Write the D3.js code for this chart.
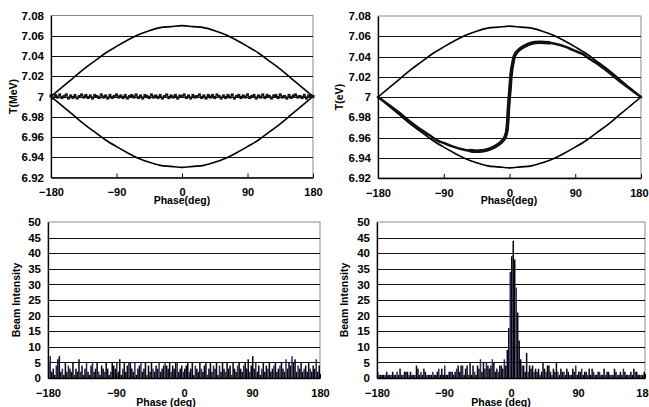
<!DOCTYPE html>
<html>
<head>
<meta charset="utf-8">
<script src="https://cdn.jsdelivr.net/npm/d3@7"></script>
<style>
body { margin: 0; background: #fff; }
svg text { font-family: 'Liberation Sans', Arial, sans-serif; font-weight: bold; fill: #000; }
</style>
</head>
<body>
<svg id="chart" width="649" height="407"></svg>
<script>
// phase axis (deg)
var phaseTicks = [-180, -90, 0, 90, 180]
var energyTicks = [6.92, 6.94, 6.96, 6.98, 7.00, 7.02, 7.04, 7.06, 7.08]
var intensityTicks = [0, 5, 10, 15, 20, 25, 30, 35, 40, 45, 50]

// separatrix, every 15 deg
var sepPhase = [-180, -165, -150, -135, -120, -105, -90, -75, -60, -45, -30, -15, 0, 15, 30, 45, 60, 75, 90, 105, 120, 135, 150, 165, 180]
var sepUpper = [7.000, 7.009, 7.018, 7.027, 7.035, 7.043, 7.0495, 7.0555, 7.061, 7.065, 7.068, 7.069, 7.070, 7.069, 7.068, 7.065, 7.061, 7.0555, 7.0495, 7.043, 7.035, 7.027, 7.018, 7.009, 7.000]
var sepLower = [7.000, 6.991, 6.982, 6.973, 6.965, 6.957, 6.9505, 6.9445, 6.939, 6.935, 6.932, 6.931, 6.930, 6.931, 6.932, 6.935, 6.939, 6.9445, 6.9505, 6.957, 6.965, 6.973, 6.982, 6.991, 7.000]

// initial beam: spread around 7 MeV (deviation in keV), one particle every 3 deg
var initPhaseStep = 3
var initDev = [0.5, -1.5, 1, -0.5, 1.5, -1, 0, 1.5, -1.5, 0.5,
	-1, 1, -1.5, 0, 1.5, -0.5, 1, -1, 0.5, -1.5,
	1, 0, -1, 1.5, -0.5, 0.5, -1.5, 1, -1, 0,
	1.5, -0.5, 0.5, -1, 1, -1.5, 0, 1, -0.5, 1.5,
	-1, 0.5, -1.5, 1, 0, -1, 1.5, -0.5, 0.5, -1,
	1, -1.5, 0, 1.5, -1, 0.5, -0.5, 1, -1.5, 0.5,
	0, 1.5, -1, 0.5, -1.5, 1, -0.5, 0, 1.5, -1,
	0.5, -1.5, 1, -0.5, 1, -1, 1.5, 0, -1.5, 0.5,
	-1, 1, -0.5, 1.5, -1.5, 0, 1, -1, 0.5, -0.5,
	1.5, -1, 0, 1, -1.5, 0.5, -0.5, 1.5, -1, 1,
	0, -1.5, 0.5, 1, -1, 1.5, -0.5, 0, -1.5, 1,
	-1, 0.5, 1.5, -0.5, 0, -1, 1, -1.5, 0.5, 1,
	0]

// bunched beam: the S shaped trace
var sPhase = [-180, -165, -150, -135, -122, -110, -100, -88, -77, -65, -54, -42, -30, -20, -12, -7, -4, -2.5, -1.5, -0.5, 0.5, 1.5, 3, 5, 7, 12, 20, 30, 42, 54, 65, 77, 88, 100, 110, 122, 135, 150, 165, 180]
var sT = [7.000, 6.992, 6.984, 6.975, 6.968, 6.9625, 6.9575, 6.954, 6.951, 6.9485, 6.947, 6.9465, 6.948, 6.951, 6.955, 6.959, 6.965, 6.975, 6.988, 6.998, 7.006, 7.016, 7.027, 7.035, 7.041, 7.046, 7.050, 7.053, 7.054, 7.0535, 7.052, 7.0495, 7.046, 7.0425, 7.0375, 7.032, 7.025, 7.016, 7.008, 7.000]

// histograms, 2 deg bins from -180
var binWidth = 2
var histBefore = [5, 7, 2, 3, 1, 4, 6, 7, 2, 3, 1, 5, 2, 4, 3, 2, 5, 1, 3, 2,
	6, 2, 4, 1, 3, 5, 2, 1, 4, 5, 2, 3, 5, 2, 1, 4, 3, 2, 5, 3,
	1, 2, 5, 4, 3, 5, 2, 6, 1, 3, 5, 2, 4, 5, 5, 3, 2, 5, 1, 3,
	4, 5, 2, 3, 5, 1, 4, 2, 5, 3, 2, 4, 3, 5, 2, 3, 4, 5, 4, 3,
	5, 2, 4, 3, 5, 5, 2, 3, 4, 2,
	3, 4, 5, 2, 3, 5, 1, 4, 3, 2, 5, 3, 2, 4, 5, 1, 3, 5, 2, 4,
	3, 5, 1, 4, 2, 5, 3, 2, 5, 3, 4, 1, 5, 3, 2, 4, 5, 3, 2, 4,
	5, 3, 6, 2, 4, 7, 3, 5, 2, 4, 1, 3, 5, 2, 4, 3, 5, 2, 3, 4,
	5, 2, 3, 4, 5, 3, 2, 6, 3, 5, 4, 7, 5, 6, 2, 4, 3, 5, 2, 3,
	4, 2, 5, 3, 2, 4, 3, 6, 2, 4]
var histAfter = [2, 1, 1, 1, 1, 1, 2, 1, 1, 1, 2, 1, 1, 2, 1, 3, 1, 1, 2, 2,
	2, 1, 2, 1, 1, 1, 4, 3, 1, 2, 1, 3, 2, 1, 1, 1, 1, 2, 1, 1,
	2, 3, 1, 3, 1, 4, 1, 1, 2, 2, 2, 1, 2, 3, 4, 2, 4, 4, 1, 3,
	4, 1, 5, 1, 4, 2, 1, 4, 3, 6, 2, 5, 3, 5, 4, 3, 4, 6, 5, 2,
	3, 2, 4, 4,
	3, 6, 4, 9, 16, 34, 39, 44, 38, 29, 21, 12, 6, 4,
	4, 2, 8, 2, 4, 3, 4, 2, 3, 2, 3, 1, 2, 5, 3, 2, 4, 4, 2, 1,
	3, 2, 5, 2, 1, 3, 2, 2, 1, 3, 2, 1, 1, 3, 2, 4, 1, 2, 2, 3,
	1, 2, 2, 1, 3, 1, 3, 2, 1, 1, 2, 2, 1, 1, 3, 1, 2, 2, 1, 1,
	1, 3, 2, 1, 1, 2, 1, 3, 2, 1, 1, 1, 2, 1, 3, 2, 2, 1, 1, 1,
	1, 2]

var svg = d3.select('#chart')

var fmtT = d => String(+d.toFixed(2))

// one plot frame: border + gridlines
function makePanel(cfg) {
	var g = svg.append('g')
	var x = d3.scaleLinear().domain([-180, 180]).range([cfg.left, cfg.right])
	var y = d3.scaleLinear().domain(cfg.yDomain).range([cfg.bottom, cfg.top])

	// plot border (top / right grey)
	g.append('rect')
		.attr('x', cfg.left)
		.attr('y', cfg.top)
		.attr('width', cfg.right - cfg.left)
		.attr('height', cfg.bottom - cfg.top)
		.attr('fill', '#fff')
		.attr('stroke', '#8a8a8a')
		.attr('stroke-width', 1)

	g.selectAll('line.grid')
		.data(cfg.yTicks.slice(1, -1))
		.enter()
		.append('line')
		.attr('class', 'grid')
		.attr('x1', cfg.left)
		.attr('x2', cfg.right)
		.attr('y1', d => Math.round(y(d)) + 0.5)
		.attr('y2', d => Math.round(y(d)) + 0.5)
		.attr('stroke', '#111')
		.attr('stroke-width', 1)

	cfg.g = g
	cfg.x = x
	cfg.y = y
	return cfg
}

// axes and titles on top of the marks
function finishPanel(cfg) {
	var g = cfg.g
	var x = cfg.x, y = cfg.y

	var yAxis = g.append('g')
		.attr('transform', 'translate(' + cfg.left + ',0)')
		.call(d3.axisLeft(y).tickValues(cfg.yTicks).tickFormat(cfg.yFormat).tickSize(0).tickPadding(7))
	yAxis.select('.domain').attr('stroke', '#000').attr('stroke-width', 1.3)
	yAxis.selectAll('text').style('font-size', '11.5px').attr('font-family', null)

	var xAxis = g.append('g')
		.attr('transform', 'translate(0,' + cfg.bottom + ')')
		.call(d3.axisBottom(x).tickValues(phaseTicks).tickSizeInner(-4).tickSizeOuter(0).tickPadding(11))
	xAxis.select('.domain').attr('stroke', '#000').attr('stroke-width', 1.3)
	xAxis.selectAll('.tick line').attr('stroke', '#000')
	xAxis.selectAll('text').style('font-size', '11px').attr('font-family', null)
	// keep the last label inside the window on the top right panel
	if (cfg.squeezeLast) {
		xAxis.selectAll('.tick text').filter(d => d == 180)
			.attr('text-anchor', 'end')
			.attr('x', 7)
	}

	g.append('text')
		.attr('x', cfg.xTitleX)
		.attr('y', cfg.xTitleY)
		.attr('text-anchor', 'middle')
		.style('font-size', '10.5px')
		.text(cfg.xTitle)

	g.append('text')
		.attr('transform', 'translate(' + cfg.yTitleX + ',' + ((cfg.top + cfg.bottom) / 2) + ') rotate(-90)')
		.attr('text-anchor', 'middle')
		.style('font-size', '10.5px')
		.text(cfg.yTitle)
}

// separatrix curves
function drawSeparatrix(p) {
	var line = d3.line()
		.x((d, i) => p.x(sepPhase[i]))
		.y(d => p.y(d))
		.curve(d3.curveMonotoneX)
	;[sepUpper, sepLower].forEach(arr => {
		p.g.append('path')
			.attr('d', line(arr))
			.attr('fill', 'none')
			.attr('stroke', '#000')
			.attr('stroke-width', 1.6)
	})
}

// ---- top left: initial beam
var p1 = makePanel({
	left: 51, right: 313, top: 15.5, bottom: 177.5,
	yDomain: [6.92, 7.08], yTicks: energyTicks, yFormat: fmtT,
	yTitle: 'T(MeV)', yTitleX: 17, xTitle: 'Phase(deg)', xTitleX: 182, xTitleY: 204
})
drawSeparatrix(p1)
p1.g.selectAll('rect.pt')
	.data(initDev)
	.enter()
	.append('rect')
	.attr('class', 'pt')
	.attr('x', (d, i) => p1.x(-180 + i * initPhaseStep) - 1.5)
	.attr('y', d => p1.y(7 + d / 1000) - 1.6)
	.attr('width', 3)
	.attr('height', 3.2)
	.attr('fill', '#151515')
finishPanel(p1)

// ---- top right: bunched beam
var p2 = makePanel({
	left: 378, right: 641, top: 16, bottom: 178,
	yDomain: [6.92, 7.08], yTicks: energyTicks, yFormat: fmtT,
	yTitle: 'T(eV)', yTitleX: 343, xTitle: 'Phase(deg)', xTitleX: 509, xTitleY: 204,
	squeezeLast: true
})
drawSeparatrix(p2)
var sLine = d3.line()
	.x((d, i) => p2.x(sPhase[i]))
	.y(d => p2.y(d))
	.curve(d3.curveCatmullRom)
p2.g.append('path')
	.attr('d', sLine(sT))
	.attr('fill', 'none')
	.attr('stroke', '#111')
	.attr('stroke-width', 2.6)
	.attr('stroke-linecap', 'round')
// the core (around phase 0) is denser, draw it heavier
var core = sT.map((d, i) => i).filter(i => Math.abs(sPhase[i]) <= 60)
p2.g.append('path')
	.attr('d', d3.line()
		.x(i => p2.x(sPhase[i]))
		.y(i => p2.y(sT[i]))
		.curve(d3.curveCatmullRom)(core))
	.attr('fill', 'none')
	.attr('stroke', '#111')
	.attr('stroke-width', 3.6)
	.attr('stroke-linecap', 'round')
finishPanel(p2)

// histogram bars
function drawHist(p, values) {
	p.g.selectAll('rect.bar')
		.data(values)
		.enter()
		.append('rect')
		.attr('class', 'bar')
		.attr('x', (d, i) => p.x(-180 + i * binWidth))
		.attr('width', (d, i) => p.x(-180 + (i + 1) * binWidth) - p.x(-180 + i * binWidth))
		.attr('y', d => p.y(d))
		.attr('height', d => p.y(0) - p.y(d))
		.attr('fill', (d, i) => i % 4 == 1 ? '#2a2a5a' : '#050510')
}

// ---- bottom left
var p3 = makePanel({
	left: 48, right: 320, top: 222, bottom: 378,
	yDomain: [0, 50], yTicks: intensityTicks, yFormat: d3.format('d'),
	yTitle: 'Beam Intensity', yTitleX: 20, xTitle: 'Phase (deg)', xTitleX: 166, xTitleY: 406
})
drawHist(p3, histBefore)
finishPanel(p3)

// ---- bottom right
var p4 = makePanel({
	left: 377, right: 645, top: 222, bottom: 378,
	yDomain: [0, 50], yTicks: intensityTicks, yFormat: d3.format('d'),
	yTitle: 'Beam Intensity', yTitleX: 348, xTitle: 'Phase (deg)', xTitleX: 501, xTitleY: 406
})
drawHist(p4, histAfter)
finishPanel(p4)
</script>
</body>
</html>
